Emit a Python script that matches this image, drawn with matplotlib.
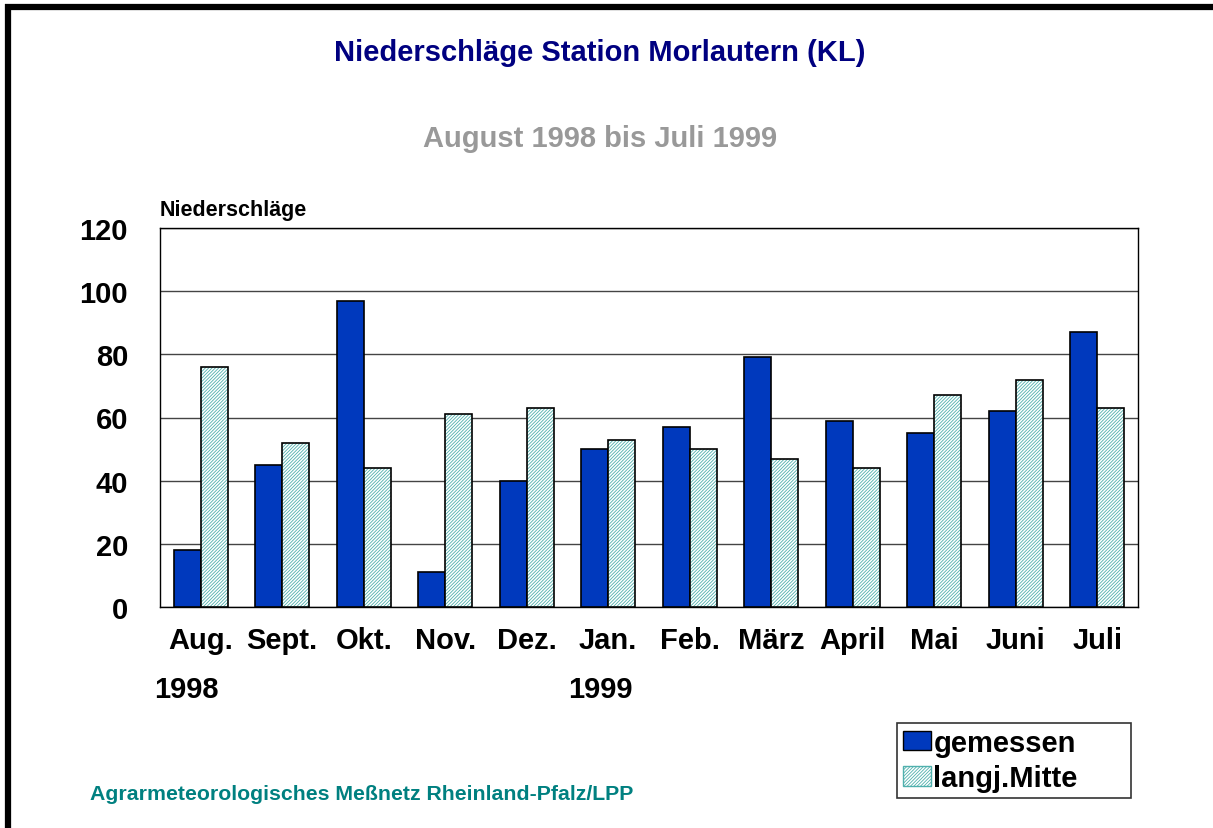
import matplotlib.pyplot as plt
import matplotlib.lines as mlines
from matplotlib.patches import Patch
import numpy as np

plt.rcParams['font.family'] = ['Liberation Sans', 'DejaVu Sans']
plt.rcParams['font.weight'] = 'bold'
plt.rcParams['hatch.linewidth'] = 0.6

months = ['Aug.', 'Sept.', 'Okt.', 'Nov.', 'Dez.', 'Jan.', 'Feb.', 'März',
          'April', 'Mai', 'Juni', 'Juli']
gemessen = [18, 45, 97, 11, 40, 50, 57, 79, 59, 55, 62, 87]
langj_mitte = [76, 52, 44, 61, 63, 53, 50, 47, 44, 67, 72, 63]
yticks = [0, 20, 40, 60, 80, 100, 120]

blue = '#0039bd'
hatch_col = '#4fb0ad'
hatch = '//////////'

fig = plt.figure(figsize=(12.13, 8.29), dpi=100)
ax = fig.add_axes([160 / 1213, 1 - 608 / 829, 978 / 1213, 379 / 829])

x = np.arange(len(months))
w = 0.33
ax.bar(x - w / 2, gemessen, w, color=blue, edgecolor='black', linewidth=1.2, zorder=3)
# hatched bars: hatch in teal, outline drawn separately in black
ax.bar(x + w / 2, langj_mitte, w, color='white', edgecolor=hatch_col, hatch=hatch,
       linewidth=0, zorder=3)
ax.bar(x + w / 2, langj_mitte, w, fill=False, edgecolor='black', linewidth=1.2, zorder=4)

ax.set_xlim(-0.5, len(months) - 0.5)
ax.set_ylim(0, 120)
ax.set_yticks(yticks)
ax.set_xticks(x)
ax.set_xticklabels(months)
ax.tick_params(axis='both', length=0, labelsize=21)
ax.tick_params(axis='x', pad=14)
ax.tick_params(axis='y', pad=23)
for t in ax.get_xticklabels() + ax.get_yticklabels():
    t.set_fontweight('bold')
ax.grid(axis='y', color='#444444', linewidth=1, zorder=0)
for s in ax.spines.values():
    s.set_linewidth(1)
    s.set_color('black')

ax.text(0, 1.02, 'Niederschläge', transform=ax.transAxes, fontsize=15.5,
        fontweight='bold', ha='left', va='bottom')

# year labels under the month labels
fig.text(186 / 1213, 1 - 690 / 829, '1998', fontsize=21, fontweight='bold', ha='center', va='center')
fig.text(600 / 1213, 1 - 690 / 829, '1999', fontsize=21, fontweight='bold', ha='center', va='center')

fig.text(600 / 1213, 1 - 53 / 829, 'Niederschläge Station Morlautern (KL)', fontsize=21,
         fontweight='bold', color='#000080', ha='center', va='center')
fig.text(600 / 1213, 1 - 139 / 829, 'August 1998 bis Juli 1999', fontsize=21,
         fontweight='bold', color='#999999', ha='center', va='center')
fig.text(90 / 1213, 1 - 795 / 829, 'Agrarmeteorologisches Meßnetz Rheinland-Pfalz/LPP',
         fontsize=15.3, fontweight='bold', color='#008080', ha='left', va='center')

# legend
h1 = Patch(facecolor=blue, edgecolor='black', linewidth=1)
h2 = Patch(facecolor='white', edgecolor=hatch_col, hatch=hatch, linewidth=1)
leg = fig.legend([h1, h2], ['gemessen', 'langj.Mitte'], loc='lower left',
                 bbox_to_anchor=(897 / 1213, 1 - 799 / 829, 234 / 1213, 77 / 829),
                 mode='expand', fontsize=21, frameon=True, fancybox=False,
                 handlelength=0.95, handleheight=0.65, handletextpad=0.1,
                 borderpad=0.2, labelspacing=0.25, borderaxespad=0)
leg.get_frame().set_edgecolor('black')
leg.get_frame().set_linewidth(1.2)
for t in leg.get_texts():
    t.set_fontweight('bold')

# thick frame on top and left edge of the image
fig.add_artist(mlines.Line2D([5 / 1213, 1], [1 - 8 / 829, 1 - 8 / 829], color='black',
                             linewidth=4.5, transform=fig.transFigure, solid_capstyle='butt'))
fig.add_artist(mlines.Line2D([8 / 1213, 8 / 1213], [0, 1 - 5 / 829], color='black',
                             linewidth=4.5, transform=fig.transFigure, solid_capstyle='butt'))

fig.savefig('out.png', dpi=100, facecolor='white')
